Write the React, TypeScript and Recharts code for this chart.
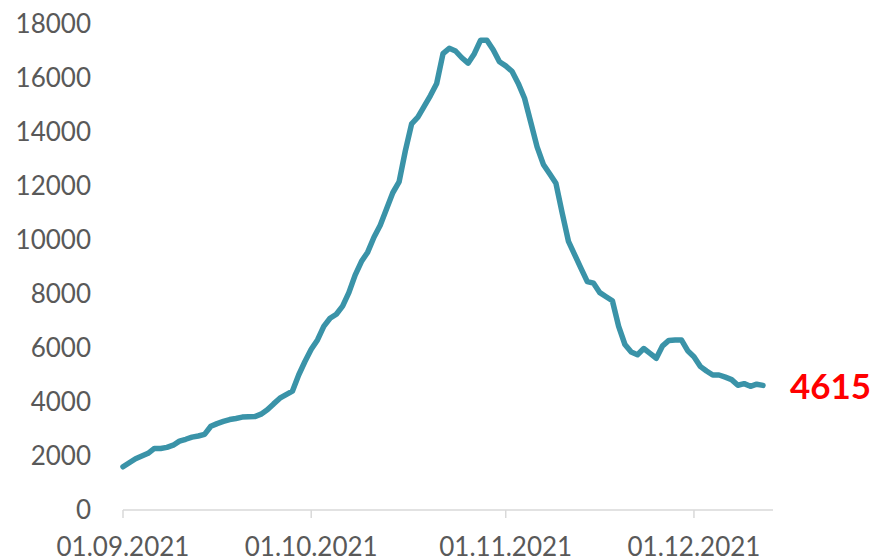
import React from "react";
import { LineChart, Line, XAxis, YAxis } from "recharts";

// daily cases from 01.09.2021 (day 0) to 12.12.2021 (day 102)
const cases = [
  1600, 1750, 1900, 2000, 2100, 2280, 2280, 2320, 2400, 2550,
  2620, 2700, 2740, 2800, 3100, 3200, 3280, 3350, 3390, 3440,
  3450, 3460, 3550, 3710, 3930, 4140, 4270, 4400, 5000, 5500,
  5950, 6300, 6800, 7100, 7250, 7550, 8050, 8700, 9200, 9550,
  10100, 10550, 11150, 11750, 12150, 13300, 14300, 14550, 14950, 15350,
  15800, 16900, 17100, 17000, 16750, 16550, 16900, 17400, 17400, 17050,
  16600, 16450, 16250, 15800, 15250, 14350, 13450, 12800, 12450, 12100,
  11000, 9950, 9450, 8950, 8460, 8400, 8050, 7900, 7750, 6800,
  6130, 5850, 5750, 5980, 5800, 5620, 6080, 6280, 6300, 6300,
  5900, 5680, 5320, 5150, 5000, 5000, 4920, 4830, 4620, 4680,
  4580, 4660, 4615,
];

const tickDays = [0, 30, 61, 91];
const tickLabels = ["01.09.2021", "01.10.2021", "01.11.2021", "01.12.2021"];
const yTicks = [0, 2000, 4000, 6000, 8000, 10000, 12000, 14000, 16000, 18000];

const data = cases.map((v, i) => ({ day: i, cases: v }));
const lastIndex = cases.length - 1;

const font = "Lato, 'Open Sans', sans-serif";

const LastLabel = (props: any) => {
  const { x, y, index, value } = props;
  if (index !== lastIndex) return null;
  return (
    <text
      x={x + 27}
      y={y}
      dy={14}
      fill="#ff0000"
      fontFamily={font}
      fontWeight={700}
      fontSize={35}
      textAnchor="start"
    >
      {value}
    </text>
  );
};

export default function App() {
  return (
    <div style={{ position: "absolute", left: 0, top: 0, background: "#fff" }}>
      <LineChart
        width={875}
        height={560}
        data={data}
        margin={{ top: 24, right: 102, bottom: 0, left: 0 }}
      >
        <XAxis
          type="number"
          dataKey="day"
          domain={[0, 103.6]}
          ticks={tickDays}
          tickFormatter={(d: number) => tickLabels[tickDays.indexOf(d)] ?? ""}
          interval={0}
          height={50}
          stroke="#d9d9d9"
          strokeWidth={1.5}
          tickSize={8}
          tickMargin={20}
          tick={{ fill: "#595959", fontSize: 26, fontFamily: font }}
        />
        <YAxis
          domain={[0, 18000]}
          ticks={yTicks}
          interval={0}
          width={123}
          axisLine={false}
          tickLine={false}
          tickSize={0}
          tickMargin={32}
          tick={{ fill: "#595959", fontSize: 26, fontFamily: font }}
        />
        <Line
          type="linear"
          dataKey="cases"
          stroke="#3a93a8"
          strokeWidth={5.5}
          strokeLinecap="round"
          strokeLinejoin="round"
          dot={false}
          isAnimationActive={false}
          label={<LastLabel />}
        />
      </LineChart>
    </div>
  );
}
